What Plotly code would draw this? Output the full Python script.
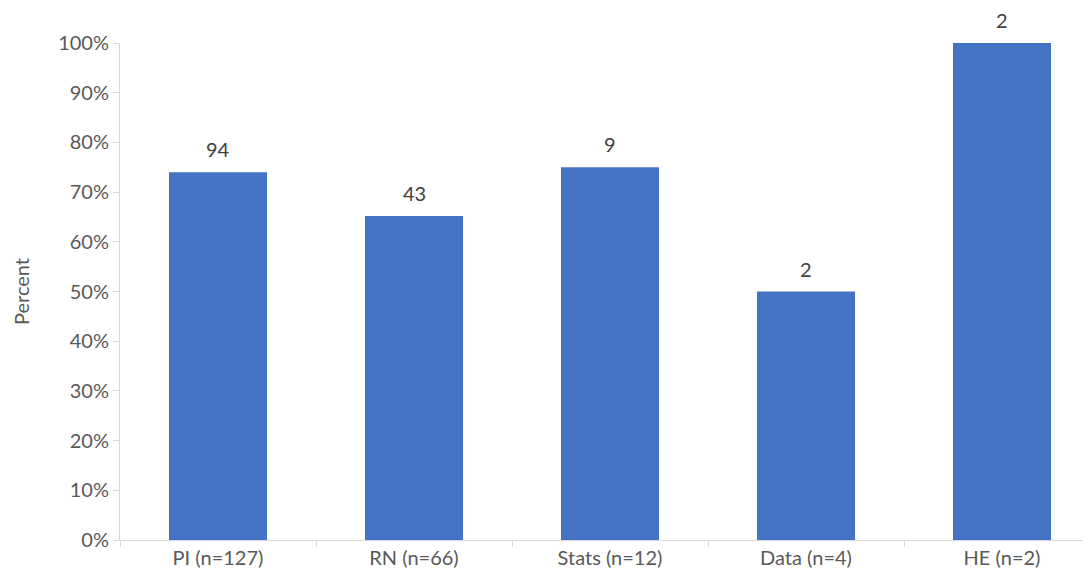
import plotly.graph_objects as go

categories = ["PI (n=127)", "RN (n=66)", "Stats (n=12)", "Data (n=4)", "HE (n=2)"]
percents = [0.74, 0.652, 0.75, 0.50, 1.00]
counts = [94, 43, 9, 2, 2]

fig = go.Figure()
fig.add_trace(go.Bar(x=categories, y=percents, marker_color="#4472C4",
                     marker_line_width=0, hoverinfo="skip"))

for c, p, n in zip(categories, percents, counts):
    fig.add_annotation(x=c, y=p, text=str(n), showarrow=False, yanchor="bottom",
                       yshift=10, borderpad=0, font=dict(size=20, color="#404040"))

fig.update_layout(
    width=1083, height=574,
    margin=dict(l=112, r=0, t=35, b=42),
    paper_bgcolor="white", plot_bgcolor="white",
    font=dict(family="Lato, Open Sans, sans-serif", size=20, color="#595959"),
    bargap=0.5, showlegend=False,
)
fig.update_xaxes(range=[-0.5, 4.454], showline=True, linecolor="#d9d9d9", linewidth=1,
                 ticks="outside", tickson="boundaries", ticklen=6, tickcolor="#d9d9d9",
                 showgrid=False, automargin=False, tickfont=dict(size=20, color="#595959"))
fig.update_yaxes(range=[0, 1], tickformat=".0%", dtick=0.1, showline=True,
                 linecolor="#d9d9d9", linewidth=1, ticks="outside", ticklen=6,
                 tickcolor="#d9d9d9", showgrid=False, zeroline=False, automargin=False,
                 tickfont=dict(size=20, color="#595959"),
                 title=dict(text="Percent", font=dict(size=20, color="#595959"), standoff=23))

fig.write_html("out.html")
